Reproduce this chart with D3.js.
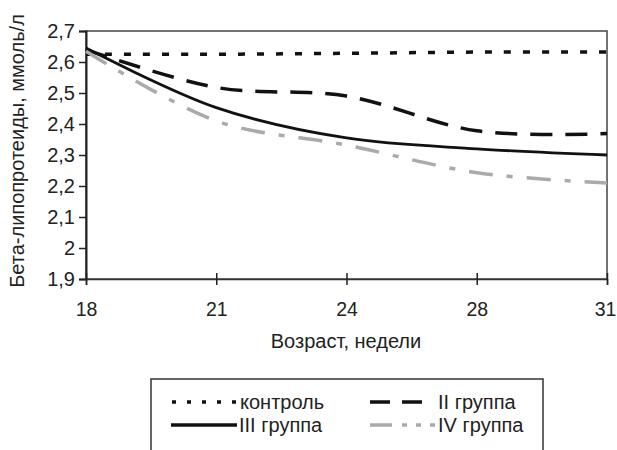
<!DOCTYPE html>
<html><head><meta charset="utf-8">
<script src="https://cdn.jsdelivr.net/npm/d3@7"></script>
<style>body{margin:0;background:#fff}svg{display:block}text{font-family:"Liberation Sans",Arial,sans-serif;fill:#222}</style>
</head><body><svg id="c" width="617" height="450"></svg>
<script>
const weeks = ["18","21","24","28","31"];
const yTicks = [1.9,2.0,2.1,2.2,2.3,2.4,2.5,2.6,2.7];
const control = [2.625,2.625,2.628,2.632,2.632];
const group2 = [2.64,2.518,2.49,2.378,2.369];
const group3 = [2.645,2.453,2.355,2.32,2.30];
const group4 = [2.635,2.41,2.332,2.243,2.21];
const seriesNames = ["контроль","II группа","III группа","IV группа"];

const svg = d3.select("#c");
const m = {l:86, r:607, t:31, b:279};
const x = d3.scalePoint().domain(weeks).range([m.l, m.r]);
const y = d3.scaleLinear().domain([1.9,2.7]).range([m.b, m.t]);
const fs = 20;

// frame
svg.append("rect").attr("x",m.l).attr("y",m.t).attr("width",m.r-m.l).attr("height",m.b-m.t)
  .attr("fill","none").attr("stroke","#444").attr("stroke-width",1.5);

const ya = svg.append("g").attr("transform",`translate(${m.l},0)`)
  .call(d3.axisLeft(y).tickValues(yTicks).tickSize(7).tickPadding(4)
    .tickFormat(d => String(+d.toFixed(1)).replace(".",",")));
ya.select(".domain").attr("stroke","#222").attr("stroke-width",2);
ya.selectAll(".tick line").attr("stroke","#222").attr("stroke-width",1.5);
ya.selectAll("text").style("font-size",fs+"px").attr("fill","#222");

const xa = svg.append("g").attr("transform",`translate(0,${m.b})`)
  .call(d3.axisBottom(x).tickSize(6).tickPadding(17));
xa.select(".domain").attr("stroke","#333").attr("stroke-width",1.5);
xa.selectAll(".tick line").attr("stroke","#222").attr("stroke-width",1.5).attr("y1",-6);
xa.selectAll("text").style("font-size",(fs-0.5)+"px").attr("fill","#222")
  .attr("x",(d,i)=> i===weeks.length-1 ? -2 : 0);

svg.append("text").attr("x",346).attr("y",348).attr("text-anchor","middle")
  .style("font-size",fs+"px").text("Возраст, недели");
svg.append("text").attr("transform","translate(24,151) rotate(-90)").attr("text-anchor","middle")
  .style("font-size",fs+"px").text("Бета-липопротеиды, ммоль/л");

const styles = [
  {data:control, color:"#111", w:3.5, dash:"7,12"},
  {data:group2, color:"#111", w:3.5, dash:"22,13"},
  {data:group3, color:"#111", w:2.8, dash:null},
  {data:group4, color:"#aaa", w:3.5, dash:"24,14,6,14"}
];
const line = d3.line().x((d,i)=>x(weeks[i])).y(d=>y(d)).curve(d3.curveCatmullRom.alpha(0.5));
styles.forEach(s=>{
  svg.append("path").attr("d",line(s.data)).attr("fill","none").attr("stroke",s.color)
    .attr("stroke-width",s.w).attr("stroke-dasharray",s.dash);
});

// legend
svg.append("rect").attr("x",151).attr("y",379).attr("width",392).attr("height",90)
  .attr("fill","#fff").attr("stroke","#333").attr("stroke-width",1.5);
const legDash = ["4,11","20,12",null,"22,10,5,9,5,9"];
const sampleX = [[172,237],[370,427],[171,237],[370,435]];
const textX = [240,438,239,438];
const rowY = [402,402,425,425];
seriesNames.forEach((n,i)=>{
  svg.append("line").attr("x1",sampleX[i][0]).attr("x2",sampleX[i][1]).attr("y1",rowY[i]).attr("y2",rowY[i])
    .attr("stroke",styles[i].color).attr("stroke-width",3.5).attr("stroke-dasharray",legDash[i]);
  svg.append("text").attr("x",textX[i]).attr("y",rowY[i]+7).style("font-size",fs+"px").text(n);
});
</script></body></html>
